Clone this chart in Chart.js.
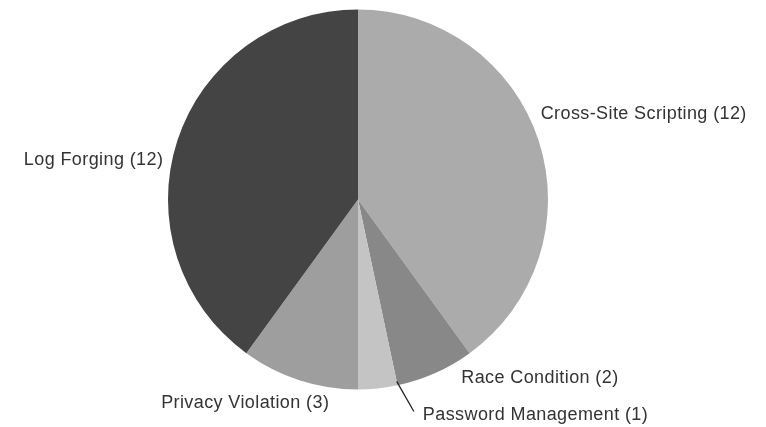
<!DOCTYPE html>
<html>
<head>
<meta charset="utf-8">
<script src="https://cdn.jsdelivr.net/npm/chart.js@4"></script>
<style>
  html, body { margin: 0; padding: 0; background: #fff; }
  #wrap { width: 766px; height: 427px; }
</style>
</head>
<body>
<div id="wrap"><canvas id="pie"></canvas></div>
<script>
const categories = ['Cross-Site Scripting', 'Race Condition', 'Password Management', 'Privacy Violation', 'Log Forging'];
const counts = [12, 2, 1, 3, 12];
const sliceColors = ['#ababab', '#888888', '#c4c4c4', '#9e9e9e', '#444444'];

// where each label sits relative to the outer edge of its slice
const labelPlacement = [
    { dx: 2, dy: -27, align: 'left' },
    { dx: 26, dy: 5, align: 'left' },
    { dx: 45, dy: 27, align: 'left', leader: true },
    { dx: 30, dy: 23, align: 'right' },
    { dx: -14, dy: 19, align: 'right' }
];

const outsideLabels = {
    id: 'outsideLabels',
    afterDraw(chart) {
        const ctx = chart.ctx;
        const arcs = chart.getDatasetMeta(0).data;
        ctx.save();
        ctx.font = '18px "Liberation Sans", Arial, sans-serif';
        ctx.fillStyle = '#333';
        ctx.textBaseline = 'middle';
        ctx.letterSpacing = '0.4px';
        arcs.forEach((arc, i) => {
            const p = arc.getProps(['x', 'y', 'startAngle', 'endAngle', 'outerRadius'], true);
            const mid = (p.startAngle + p.endAngle) / 2;
            const ex = p.x + Math.cos(mid) * p.outerRadius;
            const ey = p.y + Math.sin(mid) * p.outerRadius;
            const place = labelPlacement[i];
            const tx = ex + place.dx;
            const ty = ey + place.dy;
            if (place.leader) {
                // short pointer from the thin slice down to its label
                const lx = p.x + Math.cos(p.startAngle) * (p.outerRadius - 4);
                const ly = p.y + Math.sin(p.startAngle) * (p.outerRadius - 4);
                ctx.strokeStyle = '#222';
                ctx.lineWidth = 1.3;
                ctx.beginPath();
                ctx.moveTo(lx, ly);
                ctx.lineTo(tx - 9, ty - 4);
                ctx.stroke();
            }
            ctx.textAlign = place.align;
            ctx.fillText(categories[i] + ' (' + counts[i] + ')', tx, ty);
        });
        ctx.restore();
    }
};

new Chart(document.getElementById('pie'), {
    type: 'pie',
    data: {
        labels: categories,
        datasets: [{
            data: counts,
            backgroundColor: sliceColors,
            borderWidth: 0
        }]
    },
    options: {
        responsive: true,
        maintainAspectRatio: false,
        animation: false,
        layout: {
            padding: { left: 168, right: 218, top: 9, bottom: 37 }
        },
        plugins: {
            legend: { display: false },
            tooltip: { enabled: false }
        }
    },
    plugins: [outsideLabels]
});
</script>
</body>
</html>
